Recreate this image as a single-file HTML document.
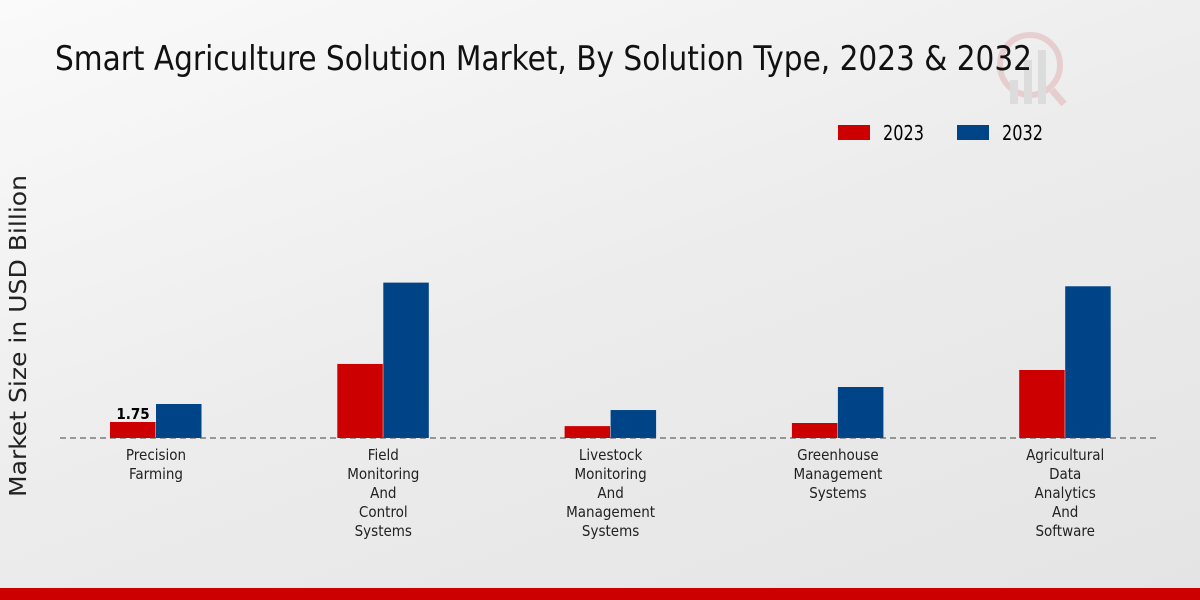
<!DOCTYPE html>
<html><head><meta charset="utf-8"><style>
html,body{margin:0;padding:0;width:1200px;height:600px;overflow:hidden}
body{background:linear-gradient(160deg,#fafafa 0%,#ececec 50%,#e4e4e4 100%);font-family:"DejaVu Sans Condensed","DejaVu Sans","Liberation Sans",sans-serif}
</style></head><body>
<svg id="chart" width="1200" height="600" xmlns="http://www.w3.org/2000/svg">
<g opacity="0.5">
<circle cx="1030" cy="65" r="30" fill="none" stroke="#e0b0b0" stroke-width="6"/>
<rect x="1010" y="80" width="8" height="24" fill="#ccc"/><rect x="1024" y="60" width="8" height="44" fill="#ccc"/><rect x="1038" y="50" width="8" height="54" fill="#ccc"/>
<line x1="1052" y1="90" x2="1064" y2="104" stroke="#e0b0b0" stroke-width="7"/>
</g>
<text x="55" y="70" font-size="34" textLength="977" lengthAdjust="spacingAndGlyphs" fill="#111">Smart Agriculture Solution Market, By Solution Type, 2023 &amp; 2032</text>
<g>
<rect x="838" y="125" width="32" height="15" fill="#cc0000"/>
<text x="883" y="140" font-size="20" textLength="41" lengthAdjust="spacingAndGlyphs">2023</text>
<rect x="957" y="125" width="32" height="15" fill="#004488"/>
<text x="1002" y="140" font-size="20" textLength="41" lengthAdjust="spacingAndGlyphs">2032</text>
</g>
<text transform="translate(26,336) rotate(-90)" text-anchor="middle" font-size="23" textLength="322" lengthAdjust="spacingAndGlyphs" fill="#222">Market Size in USD Billion</text>
<g id="bars"></g>
<line x1="60" y1="438" x2="1160" y2="438" stroke="#444" stroke-dasharray="6,4"/>
<g id="labels"></g>
<rect x="0" y="588" width="1200" height="12" fill="#cc0000"/>
</svg>
<script>
const categories=[["Precision","Farming"],["Field","Monitoring","And","Control","Systems"],["Livestock","Monitoring","And","Management","Systems"],["Greenhouse","Management","Systems"],["Agricultural","Data","Analytics","And","Software"]];
const values2023=[1.75,8.1,1.3,1.64,7.44];
const values2032=[3.72,17.0,3.06,5.58,16.6];
const NS="http://www.w3.org/2000/svg";
const baseY=438, scale=9.14;
function y(v){return baseY-v*scale;}
function xc(i){return 156+i*227.3;}
const bars=document.getElementById('bars'), labels=document.getElementById('labels');
categories.forEach((c,i)=>{
  [[values2023,'#cc0000',-46,'2023'],[values2032,'#004488',0,'2032']].forEach(([arr,col,off,yr])=>{
    const r=document.createElementNS(NS,'rect');
    r.setAttribute('x',xc(i)+off);r.setAttribute('width',45.5);
    r.setAttribute('y',y(arr[i]));r.setAttribute('height',baseY-y(arr[i]));r.setAttribute('fill',col);
    
    
    bars.appendChild(r);
  });
  c.forEach((line,j)=>{
    const t=document.createElementNS(NS,'text');
    t.setAttribute('x',xc(i));t.setAttribute('y',460+j*19);t.setAttribute('text-anchor','middle');
    t.setAttribute('font-size','15');t.setAttribute('fill','#222');t.textContent=line;
    
    
    labels.appendChild(t);
  });
});
const v=document.createElementNS(NS,'text');
v.setAttribute('x',xc(0)-23);v.setAttribute('y',y(values2023[0])-3);v.setAttribute('text-anchor','middle');
v.setAttribute('font-size','15');v.setAttribute('font-weight','bold');v.textContent=values2023[0].toFixed(2);


labels.appendChild(v);
</script>
</body></html>
